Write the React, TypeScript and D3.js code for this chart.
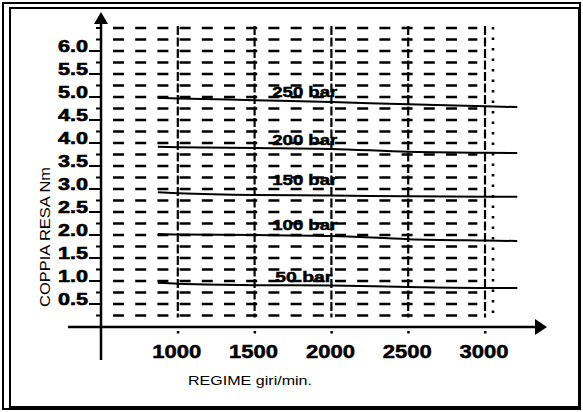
import * as d3 from "d3";

const rpm = [870, 1000, 1500, 2000, 2500, 3000, 3210];
const pressures = ["50 bar", "100 bar", "150 bar", "200 bar", "250 bar"];
const torque50 = [0.96, 0.94, 0.91, 0.9, 0.87, 0.85, 0.85];
const torque100 = [2.02, 2.01, 2.0, 1.98, 1.91, 1.88, 1.87];
const torque150 = [2.93, 2.91, 2.87, 2.86, 2.84, 2.83, 2.83];
const torque200 = [3.92, 3.91, 3.89, 3.87, 3.81, 3.79, 3.78];
const torque250 = [4.98, 4.97, 4.93, 4.89, 4.84, 4.8, 4.78];
const labelTorque = [0.98, 2.11, 3.09, 3.96, 5.0];
const labelRpm = 1615;
const xTicks = [1000, 1500, 2000, 2500, 3000];
const yTicks = ["0.5", "1.0", "1.5", "2.0", "2.5", "3.0", "3.5", "4.0", "4.5", "5.0", "5.5", "6.0"];

const W = 583;
const H = 412;
const font = "'Liberation Sans', Arial, sans-serif";

export default function App() {
  const x = d3.scaleLinear().domain([500, 3000]).range([101, 485]);
  const y = d3.scaleLinear().domain([0, 6]).range([327, 51]);

  const series = [torque50, torque100, torque150, torque200, torque250];
  const line = d3
    .line<number>()
    .x((_, i) => x(rpm[i]))
    .y((d) => y(d))
    .curve(d3.curveMonotoneX);

  // grid rows and minor ticks every 0.25 Nm, from 0.25 up to 6.5
  const rows = d3.range(1, 27).map((i) => i * 0.25);
  const x0 = x(500);
  const y0 = y(0);

  return (
    <svg
      width={W}
      height={H}
      style={{ position: "absolute", left: 0, top: 0, background: "#fff" }}
      fontFamily={font}
    >
      <rect x={0} y={0} width={W} height={H} fill="#fff" />
      {/* double frame */}
      <rect x={3} y={3} width={577} height={406} fill="none" stroke="#000" strokeWidth={2} />
      <rect x={10} y={8} width={569} height={399} fill="none" stroke="#000" strokeWidth={2} />

      {/* horizontal dashed grid */}
      {rows.map((r) => (
        <line
          key={"h" + r}
          x1={x0 + 12}
          x2={x(2950)}
          y1={y(r)}
          y2={y(r)}
          stroke="#000"
          strokeWidth={2.6}
          strokeDasharray="11,11.2"
        />
      ))}
      {/* vertical dashed grid */}
      {xTicks.map((t) => (
        <line
          key={"v" + t}
          x1={x(t)}
          x2={x(t)}
          y1={y(6.5) - 2}
          y2={y(0.25) + 2}
          stroke="#000"
          strokeWidth={2.2}
          strokeDasharray="9,2.5"
        />
      ))}
      <line
        x1={x(3000) + 8}
        x2={x(3000) + 8}
        y1={y(6.5) - 1}
        y2={y(0.25) + 2}
        stroke="#000"
        strokeWidth={2.6}
        strokeDasharray="2.5,8"
      />

      {/* curves */}
      {series.map((s, i) => (
        <path key={"c" + i} d={line(s) || ""} fill="none" stroke="#000" strokeWidth={2} />
      ))}
      {pressures.map((p, i) => (
        <text
          key={"l" + p}
          x={x(labelRpm) + (p.length === 6 ? 3 : 0)}
          y={y(labelTorque[i])}
          fontSize={15}
          fontWeight="bold"
          stroke="#000"
          strokeWidth={0.5}
          textLength={p.length === 6 ? 57 : 65}
          lengthAdjust="spacingAndGlyphs"
        >
          {p}
        </text>
      ))}

      {/* y axis */}
      <line x1={x0} x2={x0} y1={360} y2={22} stroke="#000" strokeWidth={2.5} />
      <path d={`M${x0},12 L${x0 - 7},24 L${x0 + 7},24 Z`} fill="#000" />
      {rows.map((m) => (
        <line key={"m" + m} x1={x0 - 5} x2={x0} y1={y(m)} y2={y(m)} stroke="#000" strokeWidth={2} />
      ))}
      {yTicks.map((t) => (
        <g key={"y" + t}>
          <line x1={x0 - 12} x2={x0} y1={y(+t)} y2={y(+t)} stroke="#000" strokeWidth={2} />
          <text
            x={x0 - 13}
            y={y(+t) + 1}
            textAnchor="end"
            fontSize={16.5}
            fontWeight="bold"
            stroke="#000"
            strokeWidth={0.6}
            textLength={30}
            lengthAdjust="spacingAndGlyphs"
          >
            {t}
          </text>
        </g>
      ))}

      {/* x axis */}
      <line x1={68} x2={537} y1={y0} y2={y0} stroke="#000" strokeWidth={2.5} />
      <path d={`M547,${y0} L535,${y0 - 8} L535,${y0 + 8} Z`} fill="#000" />
      {xTicks.map((t) => (
        <g key={"x" + t}>
          <rect x={x(t) - 1} y={y0 + 4} width={2.5} height={2.5} fill="#000" />
          <text
            x={x(t) - 1}
            y={y0 + 31}
            textAnchor="middle"
            fontSize={19}
            fontWeight="bold"
            stroke="#000"
            strokeWidth={0.5}
            textLength={49}
            lengthAdjust="spacingAndGlyphs"
          >
            {t}
          </text>
        </g>
      ))}

      {/* axis titles */}
      <text
        transform={`translate(50,237) rotate(-90)`}
        textAnchor="middle"
        fontSize={14}
        textLength={140}
        lengthAdjust="spacingAndGlyphs"
      >
        COPPIA RESA Nm
      </text>
      <text x={188} y={385} fontSize={13} textLength={124} lengthAdjust="spacingAndGlyphs">
        REGIME giri/min.
      </text>
    </svg>
  );
}
